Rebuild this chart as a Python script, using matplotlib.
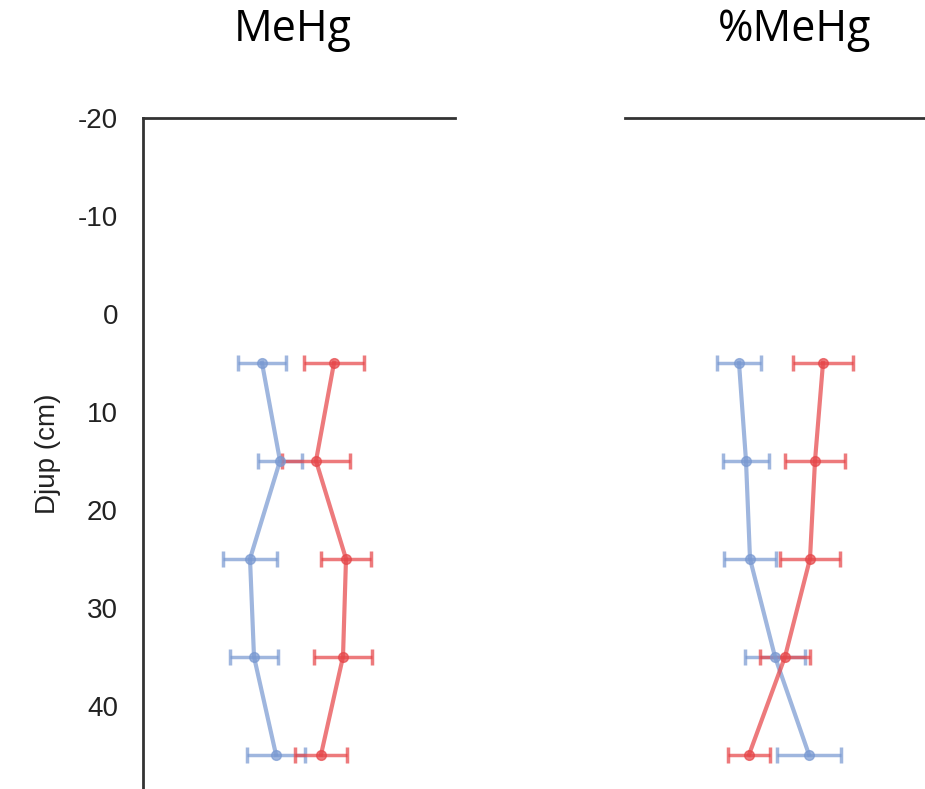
import numpy as np
import matplotlib.pyplot as plt

# Depth (cm) of each sample
depth = [5, 15, 25, 35, 45]

# MeHg panel (relative units, no x scale shown)
mehg_blue = [119, 137, 107, 111, 133]
mehg_blue_err = [24, 22, 27, 24, 29]
mehg_red = [191, 173, 203, 200, 178]
mehg_red_err = [30, 34, 25, 29, 26]

# %MeHg panel
pct_blue = [114, 121, 125, 150, 184]
pct_blue_err = [22, 23, 26, 30, 32]
pct_red = [198, 190, 185, 160, 124]
pct_red_err = [30, 30, 30, 25, 21]

yticks = [-20, -10, 0, 10, 20, 30, 40]

BLUE = '#7a9ad2'
RED = '#e6474a'

W, H = 925, 789
fig = plt.figure(figsize=(W / 100, H / 100), dpi=100)

ax1 = fig.add_axes([143 / W, 0, 312 / W, 671 / H])
ax2 = fig.add_axes([625 / W, 0, 300 / W, 671 / H])


def draw(ax, blue, blue_err, red, red_err, width):
    for x, err, c in ((blue, blue_err, BLUE), (red, red_err, RED)):
        ax.errorbar(x, depth, xerr=err, color=c, ecolor=c, lw=3, elinewidth=2.5,
                    capsize=6, capthick=2.5, marker='o', ms=7, alpha=0.72)
    ax.set_xlim(0, width)
    ax.set_ylim(48.5, -20)
    ax.set_xticks([])
    for s in ('right', 'bottom'):
        ax.spines[s].set_visible(False)
    ax.spines['top'].set_linewidth(2)
    ax.spines['top'].set_color('#333333')
    ax.spines['left'].set_linewidth(2)
    ax.spines['left'].set_color('#333333')


draw(ax1, mehg_blue, mehg_blue_err, mehg_red, mehg_red_err, 312)
draw(ax2, pct_blue, pct_blue_err, pct_red, pct_red_err, 300)

ax1.set_yticks(yticks)
ax1.set_yticklabels([str(t) for t in yticks], fontsize=20, family='Liberation Sans',
                    color='#222222')
ax1.tick_params(axis='y', length=0, pad=18)
ax1.set_ylabel('Djup (cm)', fontsize=20, family='Liberation Sans', labelpad=12,
               color='#222222')

ax2.spines['left'].set_visible(False)
ax2.set_yticks([])

fig.text(293 / W, 1 - 30 / H, 'MeHg', ha='center', va='center', fontsize=31,
         family='Open Sans')
fig.text(795 / W, 1 - 30 / H, '%MeHg', ha='center', va='center', fontsize=31,
         family='Open Sans')

fig.savefig('out.png', dpi=100)
